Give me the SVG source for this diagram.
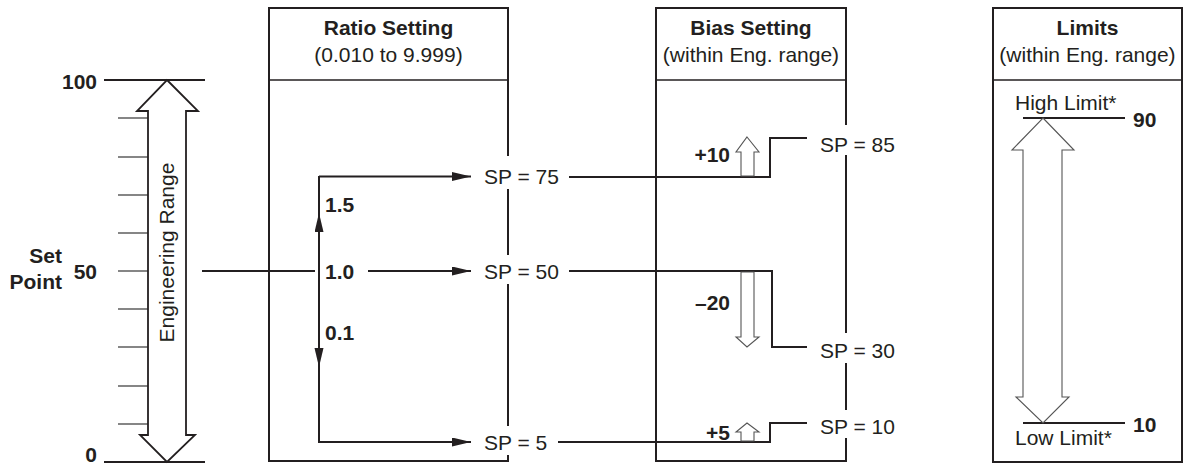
<svg xmlns="http://www.w3.org/2000/svg" width="1191" height="467" viewBox="0 0 1191 467">
<style>
text{font-family:"Liberation Sans",Arial,sans-serif;font-size:21px;fill:#231f20}
.b{font-weight:bold}
.m{text-anchor:middle}
.e{text-anchor:end}
.box{fill:none;stroke:#231f20;stroke-width:2}
.div{stroke:#231f20;stroke-width:1.3}
.ln{fill:none;stroke:#231f20;stroke-width:2}
.tick{stroke:#444;stroke-width:1.3}
.hol{fill:#fff;stroke:#231f20;stroke-width:1.8}
.hol2{fill:#fff;stroke:#555;stroke-width:1.1}
.bg{fill:#fff}
</style>
<defs>
<marker id="ah" markerUnits="userSpaceOnUse" markerWidth="20" markerHeight="10" refX="19" refY="4.5" orient="auto">
<path d="M0,0 L19,4.5 L0,9 Z" fill="#231f20"/>
</marker>
</defs>

<g id="scale">
<line class="ln" x1="104" y1="80" x2="205" y2="80"/>
<line class="ln" x1="104" y1="462" x2="205" y2="462"/>
<line class="tick" x1="118" y1="118" x2="148" y2="118"/>
<line class="tick" x1="118" y1="157" x2="148" y2="157"/>
<line class="tick" x1="118" y1="195" x2="148" y2="195"/>
<line class="tick" x1="118" y1="233" x2="148" y2="233"/>
<line class="tick" x1="118" y1="271" x2="148" y2="271"/>
<line class="tick" x1="118" y1="309" x2="148" y2="309"/>
<line class="tick" x1="118" y1="347" x2="148" y2="347"/>
<line class="tick" x1="118" y1="386" x2="148" y2="386"/>
<line class="tick" x1="118" y1="424" x2="148" y2="424"/>
<path class="hol" d="M167,80 L198,111 L186,111 L186,435 L195,435 L167,462 L140,435 L148,435 L148,111 L137,111 Z"/>
<text class="m" transform="translate(174,252.5) rotate(-90)">Engineering Range</text>
<text class="b e" x="97" y="89">100</text>
<text class="b e" x="97" y="279">50</text>
<text class="b e" x="97" y="462">0</text>
<text class="b e" x="62" y="263">Set</text>
<text class="b e" x="62" y="289">Point</text>
</g>

<g id="ratio">
<rect class="box" x="269" y="8" width="239" height="453"/>
<line class="div" x1="269" y1="80" x2="508" y2="80"/>
<text class="b m" x="388.5" y="35">Ratio Setting</text>
<text class="m" x="388.5" y="62">(0.010 to 9.999)</text>
</g>

<g id="bias">
<rect class="box" x="656" y="8" width="190" height="453"/>
<line class="div" x1="656" y1="80" x2="846" y2="80"/>
<text class="b m" x="751" y="35">Bias Setting</text>
<text class="m" x="751" y="62">(within Eng. range)</text>
</g>

<g id="limits">
<rect class="box" x="993" y="8" width="189" height="454"/>
<line class="div" x1="993" y1="80" x2="1182" y2="80"/>
<text class="b m" x="1087.5" y="35">Limits</text>
<text class="m" x="1087.5" y="62">(within Eng. range)</text>
<line class="ln" x1="1023" y1="118" x2="1125" y2="118"/>
<line class="ln" x1="1023" y1="423" x2="1125" y2="423"/>
<path class="hol2" d="M1043,118 L1074,150 L1062,150 L1062,397 L1069,397 L1043,423 L1016,397 L1023,397 L1023,150 L1012,150 Z"/>
<text x="1015" y="110">High Limit*</text>
<text x="1015" y="445">Low Limit*</text>
<text class="b" x="1133" y="127">90</text>
<text class="b" x="1133" y="432">10</text>
</g>

<g id="connectors">
<path class="ln" d="M202,271 H315"/>
<path class="ln" d="M319,176 V443"/>
<path class="ln" d="M319,176.5 H471" marker-end="url(#ah)"/>
<path class="ln" d="M368,271 H471" marker-end="url(#ah)"/>
<path class="ln" d="M319,442 H471" marker-end="url(#ah)"/>
<path class="ln" d="M319,260 V213" marker-end="url(#ah)"/>
<path class="ln" d="M319,290 V367" marker-end="url(#ah)"/>
<path class="ln" d="M569,177 H770 V138 H807"/>
<path class="ln" d="M569,271 H772 V347 H807"/>
<path class="ln" d="M558,442 H770 V423 H807"/>
</g>

<g id="bias-arrows">
<path class="hol2" d="M747,137 L759,152 L754,152 L754,176 L741,176 L741,152 L736,152 Z"/>
<path class="hol2" d="M741,272 L754,272 L754,337 L759,337 L747,347 L736,337 L741,337 Z"/>
<path class="hol2" d="M747,423 L759,432 L754,432 L754,441 L741,441 L741,432 L736,432 Z"/>
<text class="b e" x="730" y="162">+10</text>
<text class="b e" x="730" y="310">–20</text>
<text class="b e" x="730" y="440">+5</text>
</g>

<g id="ratio-labels">
<text class="b" x="325" y="212">1.5</text>
<text class="b" x="325" y="279">1.0</text>
<text class="b" x="325" y="340">0.1</text>
</g>

<g id="sp75"><rect class="bg" x="477" y="156" width="88" height="33"/><text x="484" y="184">SP = 75</text></g>
<g id="sp50"><rect class="bg" x="477" y="255" width="88" height="29"/><text x="484" y="279">SP = 50</text></g>
<g id="sp5"><rect class="bg" x="477" y="426" width="76" height="29"/><text x="484" y="450">SP = 5</text></g>
<g id="sp85"><rect class="bg" x="813" y="125" width="90" height="30"/><text x="820" y="152">SP = 85</text></g>
<g id="sp30"><rect class="bg" x="813" y="333" width="90" height="30"/><text x="820" y="358">SP = 30</text></g>
<g id="sp10"><rect class="bg" x="813" y="410" width="90" height="28"/><text x="820" y="434">SP = 10</text></g>
</svg>
